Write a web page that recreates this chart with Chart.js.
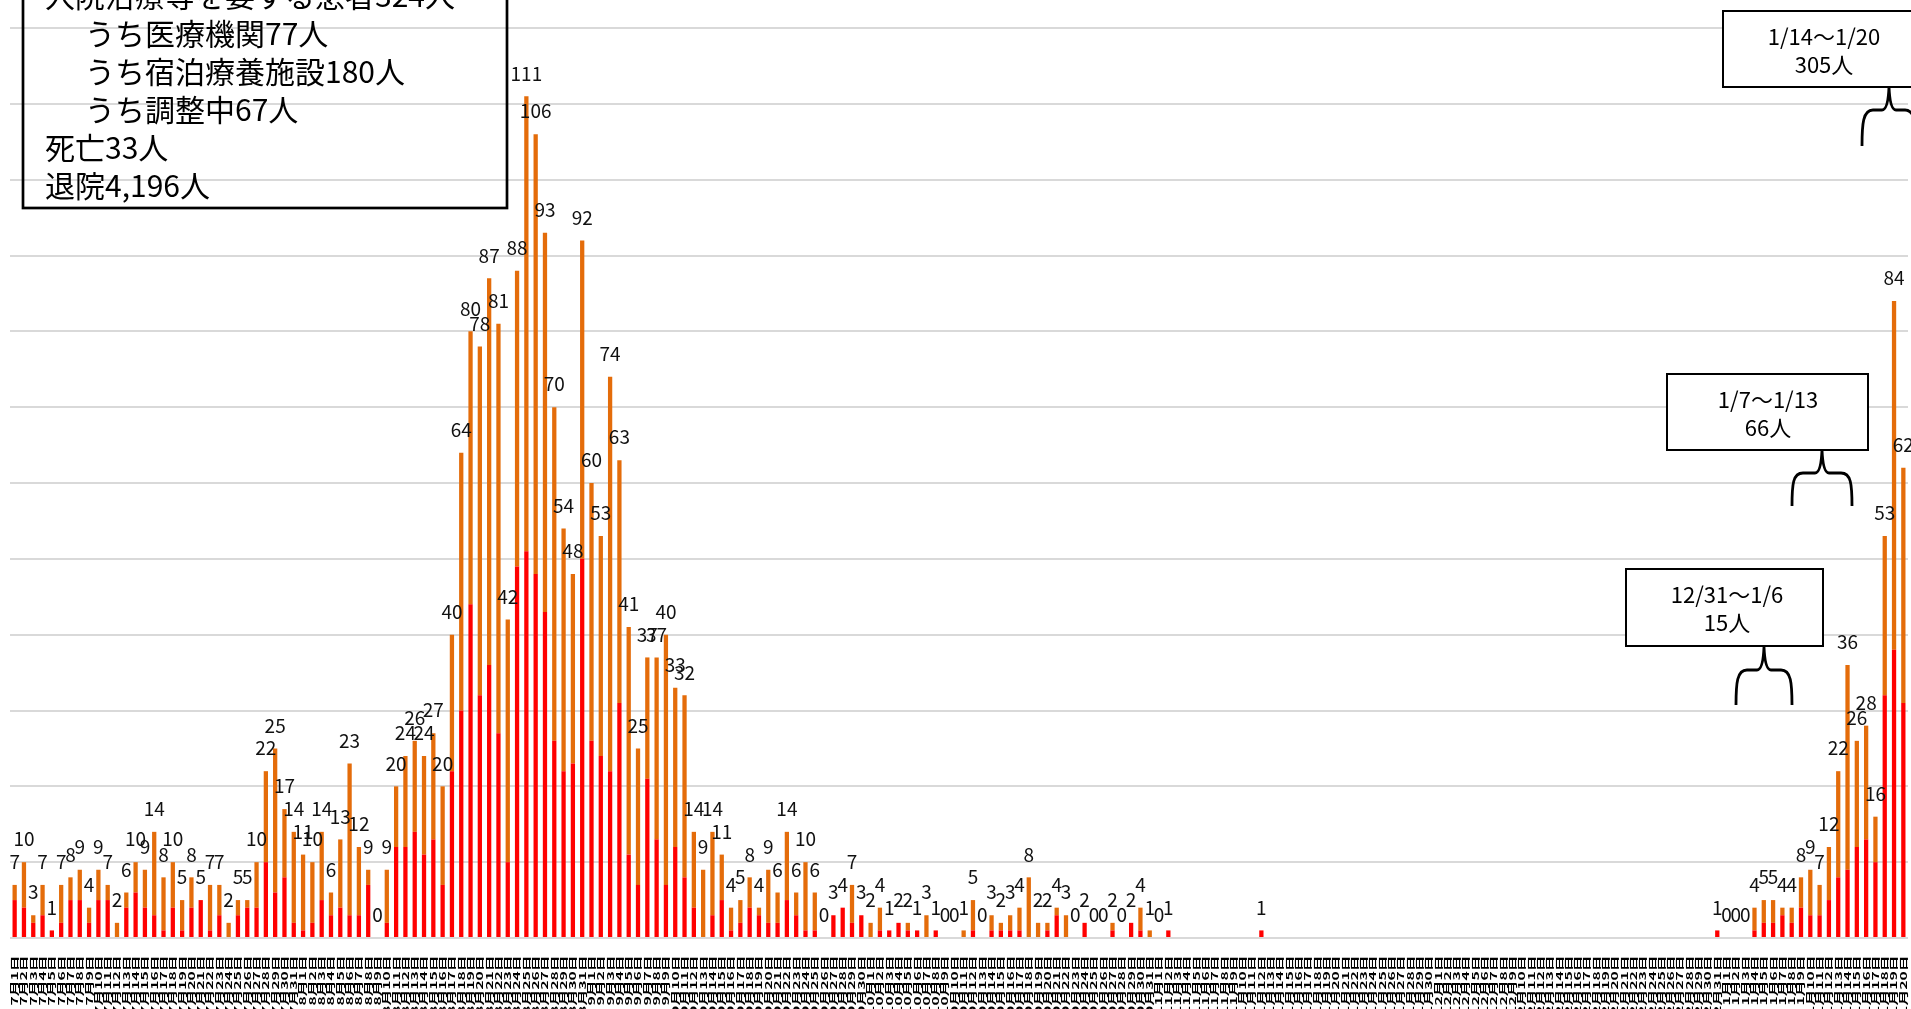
<!DOCTYPE html>
<html>
<head>
<meta charset="utf-8">
<script src="https://cdn.jsdelivr.net/npm/chart.js@4.4.1/dist/chart.umd.min.js"></script>
<style>
  html,body{margin:0;padding:0;background:#fff;}
  canvas{display:block;}
</style>
</head>
<body>
<canvas id="c" width="1911" height="1009"></canvas>
<script>
// month, number of days shown
const monthDays = [['7',31],['8',31],['9',30],['10',31],['11',30],['12',31],['1',20]];
const dateLabels = [];
monthDays.forEach(([m,n]) => { for (let d=1; d<=n; d++) dateLabels.push(m+'月'+d+'日'); });

// red part of each bar (bottom)
const redCases = [
  5,4,2,3,1,2,5,5,2,5,5,0,4,6,4,3,1,4,1,4,5,1,3,0,3,4,4,10,6,8,2,
  1,2,5,3,4,3,3,7,0,2,12,12,14,11,13,7,22,30,44,32,36,27,10,49,51,48,43,26,22,23,50,
  26,24,22,31,11,7,21,13,7,12,8,4,0,3,5,1,2,4,3,2,2,5,3,1,1,0,3,4,2,3,
  0,1,1,2,1,1,0,1,0,0,0,1,0,1,1,1,1,0,0,1,3,0,0,2,0,0,1,0,2,1,0,
  0,1,null,null,null,null,null,null,null,null,null,1,null,null,null,null,null,null,null,null,null,null,null,null,null,null,null,null,null,null,
  null,null,null,null,null,null,null,null,null,null,null,null,null,null,null,null,null,null,null,null,null,null,null,null,null,null,null,null,null,null,1,
  0,0,0,1,2,2,3,2,4,3,3,5,8,9,12,13,10,32,38,31
];
// orange part of each bar (top)
const orangeCases = [
  2,6,1,4,0,5,3,4,2,4,2,2,2,4,5,11,7,6,4,4,0,6,4,2,2,1,6,12,19,9,12,
  10,8,9,3,9,20,9,2,0,7,8,12,12,13,14,13,18,34,36,46,51,54,32,39,60,58,50,44,32,25,42,
  34,29,52,32,30,18,16,24,33,21,24,10,9,11,6,3,3,4,1,7,4,9,3,9,5,0,0,0,5,0,
  2,3,0,0,1,0,3,0,0,0,1,4,0,2,1,2,3,8,2,1,1,3,0,0,0,0,1,0,0,3,1,
  0,0,null,null,null,null,null,null,null,null,null,0,null,null,null,null,null,null,null,null,null,null,null,null,null,null,null,null,null,null,
  null,null,null,null,null,null,null,null,null,null,null,null,null,null,null,null,null,null,null,null,null,null,null,null,null,null,null,null,null,null,0,
  0,0,0,3,3,3,1,2,4,6,4,7,14,27,14,15,6,21,46,31
];

const summaryLines = [
  ['入院治療等を要する患者324人', 45],
  ['うち医療機関77人', 85],
  ['うち宿泊療養施設180人', 85],
  ['うち調整中67人', 85],
  ['死亡33人', 45],
  ['退院4,196人', 45]
];
const weekNotes = [
  {text:['1/14～1/20','305人'], box:[1723,11,210,76], brace:[1889,87,27,146]},
  {text:['1/7～1/13','66人'], box:[1667,374,201,76], brace:[1822,450,30,506]},
  {text:['12/31～1/6','15人'], box:[1626,569,197,77], brace:[1764,647,28,705]}
];

const RED='#FF0000', ORANGE='#E46C0A';
const JP='"Noto Sans CJK JP","Noto Sans",sans-serif';

// totals above each bar
const totalLabels = {
  id:'totalLabels',
  afterDatasetsDraw(chart){
    const ctx=chart.ctx, xs=chart.scales.x, ys=chart.scales.y;
    ctx.save();
    ctx.font='19px '+JP;
    ctx.fillStyle='#111';
    ctx.textAlign='center';
    ctx.textBaseline='middle';
    for(let i=0;i<dateLabels.length;i++){
      if(redCases[i]===null) continue;
      const t=redCases[i]+orangeCases[i];
      ctx.fillText(String(t), xs.getPixelForValue(i), ys.getPixelForValue(t)-23);
    }
    ctx.restore();
  }
};

// the date labels in the original are tall and narrow
const stretchLabels = {
  id:'stretchLabels',
  beforeDraw(chart){
    const sc=chart.scales.x;
    if(sc._stretched) return;
    const orig=sc.drawLabels.bind(sc);
    sc.drawLabels=function(area){
      const ctx=chart.ctx;
      ctx.save();
      ctx.translate(0,sc.top);
      ctx.scale(1,1.75);
      ctx.translate(0,-sc.top);
      orig(area);
      ctx.restore();
    };
    sc._stretched=true;
  }
};

function drawBrace(ctx,cx,top,hw,bottom){
  const mid=top+23;
  ctx.beginPath();
  ctx.moveTo(cx-hw,bottom);
  ctx.bezierCurveTo(cx-hw,bottom-22,cx-hw+1,mid,cx-hw+11,mid);
  ctx.lineTo(cx-7,mid);
  ctx.quadraticCurveTo(cx-1,mid,cx,top);
  ctx.quadraticCurveTo(cx+1,mid,cx+7,mid);
  ctx.lineTo(cx+hw-11,mid);
  ctx.bezierCurveTo(cx+hw-1,mid,cx+hw,bottom-22,cx+hw,bottom);
  ctx.stroke();
}

const notes = {
  id:'notes',
  afterDraw(chart){
    const ctx=chart.ctx;
    ctx.save();
    // summary box, top is cut off
    ctx.strokeStyle='#000';
    ctx.lineWidth=2.7;
    ctx.strokeRect(23,-30,484,238);
    ctx.fillStyle='#000';
    ctx.font='30px '+JP;
    ctx.textBaseline='middle';
    ctx.textAlign='left';
    summaryLines.forEach((l,k)=>{ ctx.fillText(l[0],l[1],-4+38*k); });

    weekNotes.forEach(n=>{
      const [x,y,w,h]=n.box;
      ctx.fillStyle='#fff';
      ctx.fillRect(x,y,w,h);
      ctx.lineWidth=2;
      ctx.strokeRect(x,y,w,h);
      ctx.fillStyle='#000';
      ctx.font='22px '+JP;
      ctx.textAlign='center';
      ctx.fillText(n.text[0],x+101,y+26);
      ctx.fillText(n.text[1],x+101,y+54);
      ctx.lineWidth=2.8;
      drawBrace(ctx,n.brace[0],n.brace[1],n.brace[2],n.brace[3]);
    });
    ctx.restore();
  }
};

new Chart(document.getElementById('c'),{
  type:'bar',
  data:{
    labels:dateLabels,
    datasets:[
      {label:'red',data:redCases,backgroundColor:RED,barPercentage:0.46,categoryPercentage:1},
      {label:'orange',data:orangeCases,backgroundColor:ORANGE,barPercentage:0.46,categoryPercentage:1}
    ]
  },
  options:{
    responsive:false,
    animation:false,
    devicePixelRatio:1,
    layout:{padding:{left:10,right:3,top:0,bottom:0}},
    plugins:{legend:{display:false},tooltip:{enabled:false}},
    scales:{
      x:{
        stacked:true,
        grid:{display:false,drawTicks:false},
        border:{display:false},
        ticks:{autoSkip:false,maxRotation:90,minRotation:90,padding:10,color:'#000',font:{family:JP,size:9,weight:'bold'}},
        afterFit(s){ s.height=71; s.paddingLeft=0; s.paddingRight=0; }
      },
      y:{
        stacked:true,
        min:0,
        max:123.7,
        border:{display:false},
        grid:{drawTicks:false,lineWidth:2,color:c=>(c.tick && c.tick.value%10===0)?'#D9D9D9':'rgba(0,0,0,0)'},
        ticks:{display:false,stepSize:10},
        afterFit(s){ s.width=0; }
      }
    }
  },
  plugins:[totalLabels,stretchLabels,notes]
});
</script>
</body>
</html>
